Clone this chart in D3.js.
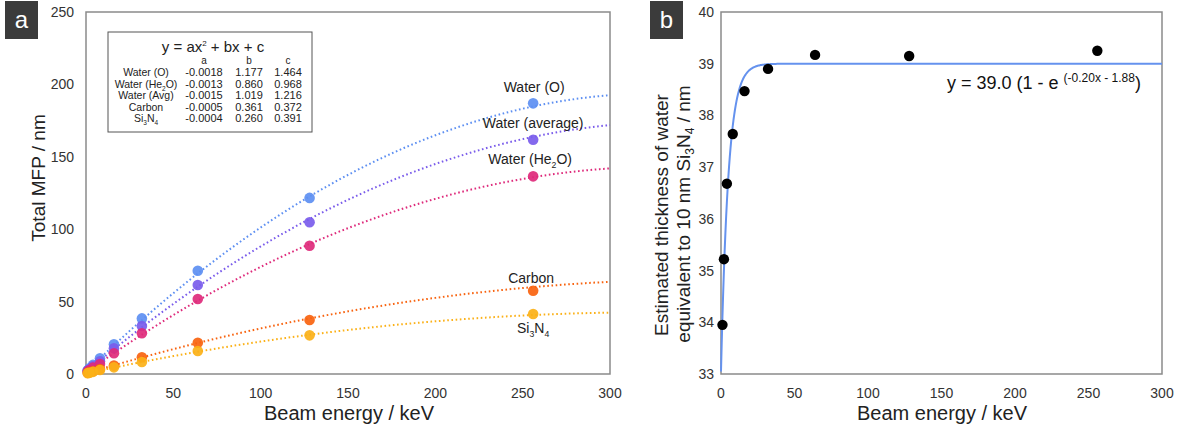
<!DOCTYPE html>
<html lang="en">
<head>
<meta charset="UTF-8">
<title>Total MFP vs beam energy</title>
<script src="https://d3js.org/d3.v7.min.js"></script>
<style>
    body { margin: 0; background: #fff; }
    svg text { font-family: "Liberation Sans", Arial, sans-serif; }
    .tick-label { font-size: 14px; fill: #333; }
    .axis-title { font-size: 19px; fill: #222; }
    .frame { fill: none; stroke: #8a8a8a; stroke-width: 1.5px; }
    .tbl { font-size: 11px; fill: #222; }
</style>
</head>
<body>
<script>
    // beam energies (keV)
    var energies = [1, 2, 4, 8, 16, 32, 64, 128, 256];

    // panel a: total MFP (nm) per material
    var seriesNames = ["Water (O)", "Water (average)", "Water (He2O)", "Carbon", "Si3N4"];
    var waterO   = [2.6, 3.9, 6.3, 10.8, 20.5, 38.4, 71.3, 121.6, 186.9];
    var waterAvg = [2.2, 3.2, 5.3, 8.8, 17.7, 33.1, 61.5, 104.8, 161.8];
    var waterHe  = [1.8, 2.7, 4.4, 6.9, 14.3, 28.1, 51.8, 88.6, 136.5];
    var carbon   = [0.8, 1.2, 1.9, 3.4, 5.8, 11.5, 21.6, 37.3, 57.5];
    var si3n4    = [0.6, 0.9, 1.5, 2.8, 4.6, 8.3, 15.9, 26.7, 41.4];
    var seriesColors = ["#5d8ff2", "#7a5ceb", "#de2a7b", "#f8630f", "#fbb118"];

    // quadratic fit coefficients y = ax^2 + bx + c (table rows)
    var tableRows = ["Water (O)", "Water (He2O)", "Water (Avg)", "Carbon", "Si3N4"];
    var coefA = [-0.0018, -0.0013, -0.0015, -0.0005, -0.0004];
    var coefB = [1.177, 0.860, 1.019, 0.361, 0.260];
    var coefC = [1.464, 0.968, 1.216, 0.372, 0.391];
    // which table row belongs to which plotted series
    var fitRowForSeries = [0, 2, 1, 3, 4];

    // panel b: estimated water thickness equivalent to 10 nm Si3N4
    var thickness = [33.95, 35.22, 36.68, 37.64, 38.47, 38.90, 39.17, 39.15, 39.25];
    var expFit = {amp: 39.0, k: -0.20, b: -1.88};

    var xTicks = [0, 50, 100, 150, 200, 250, 300];
    var yTicksA = [0, 50, 100, 150, 200, 250];
    var yTicksB = [33, 34, 35, 36, 37, 38, 39, 40];

    var width = 1184, height = 430;
    var svg = d3.select("body").append("svg")
        .attr("width", width)
        .attr("height", height);

    // subscript digits as tspans ("He2O" -> He<sub>2</sub>O)
    function richText(sel, str, size) {
        var parts = str.match(/[A-Za-z()\s]+|\d/g);
        var sub = false;
        parts.forEach(function(p) {
            var isDigit = /^\d$/.test(p);
            var t = sel.append("tspan").text(p);
            if (isDigit) {
                t.attr("font-size", size * 0.62).attr("dy", size * 0.28);
                sub = true;
            } else if (sub) {
                t.attr("dy", -size * 0.28);
                sub = false;
            }
        });
    }

    function panelLetter(x, letter) {
        svg.append("rect").attr("x", x).attr("y", 1).attr("width", 33).attr("height", 38)
            .attr("fill", "#3b3b3b");
        svg.append("text").attr("x", x + 16.5).attr("y", 28).attr("text-anchor", "middle")
            .attr("fill", "#fff").style("font-size", "24px").text(letter);
    }

    // ---------- panel a ----------
    var xa = d3.scaleLinear().domain([0, 300]).range([86, 610]);
    var ya = d3.scaleLinear().domain([0, 250]).range([374, 12]);

    var ga = svg.append("g");
    ga.append("rect").attr("class", "frame")
        .attr("x", xa(0)).attr("y", ya(250))
        .attr("width", xa(300) - xa(0)).attr("height", ya(0) - ya(250));

    ga.selectAll(".xt").data(xTicks).enter().append("text")
        .attr("class", "tick-label").attr("text-anchor", "middle")
        .attr("x", function(d) { return xa(d); }).attr("y", 398)
        .text(function(d) { return d; });
    ga.selectAll(".yt").data(yTicksA).enter().append("text")
        .attr("class", "tick-label").attr("text-anchor", "end")
        .attr("x", 74).attr("y", function(d) { return ya(d) + 5; })
        .text(function(d) { return d; });

    ga.append("text").attr("class", "axis-title").attr("text-anchor", "middle")
        .style("font-size", "20px")
        .attr("x", 349).attr("y", 420).text("Beam energy / keV");
    ga.append("text").attr("class", "axis-title").attr("text-anchor", "middle")
        .attr("transform", "translate(45,178) rotate(-90)").text("Total MFP / nm");

    var allSeries = [waterO, waterAvg, waterHe, carbon, si3n4];
    var fitX = d3.range(0, 301, 2);
    var quadLine = d3.line()
        .x(function(d) { return xa(d[0]); })
        .y(function(d) { return ya(d[1]); });

    allSeries.forEach(function(vals, i) {
        var r = fitRowForSeries[i];
        var pts = fitX.map(function(x) { return [x, coefA[r] * x * x + coefB[r] * x + coefC[r]]; });
        ga.append("path").attr("d", quadLine(pts))
            .attr("fill", "none").attr("stroke", seriesColors[i])
            .attr("stroke-width", 2).attr("stroke-dasharray", "1.6,2.6");
    });
    allSeries.forEach(function(vals, i) {
        ga.selectAll(".pt" + i).data(vals).enter().append("circle")
            .attr("cx", function(d, j) { return xa(energies[j]); })
            .attr("cy", function(d) { return ya(d); })
            .attr("r", 5.3).attr("fill", seriesColors[i]).attr("fill-opacity", 0.92);
    });

    // series labels next to the 256 keV points
    var labelDy = [-11, -11.5, -12, -8, 19];
    var labelDx = [1, 0, -3, -2, 0];
    seriesNames.forEach(function(name, i) {
        var t = ga.append("text").attr("text-anchor", "middle")
            .attr("x", xa(256) + labelDx[i]).attr("y", ya(allSeries[i][8]) + labelDy[i])
            .style("font-size", "14px").attr("fill", "#222");
        richText(t, name, 14);
    });

    // coefficient table
    ga.append("rect").attr("x", 108).attr("y", 32).attr("width", 204).attr("height", 100)
        .attr("fill", "#fff").attr("stroke", "#555").attr("stroke-width", 1);
    var title = ga.append("text").attr("x", 213).attr("y", 52).attr("text-anchor", "middle")
        .style("font-size", "15px").attr("fill", "#222");
    title.append("tspan").text("y = ax");
    title.append("tspan").text("2").attr("font-size", 8).attr("dy", -6);
    title.append("tspan").text(" + bx + c").attr("dy", 6);

    var colX = [146, 204, 249, 288];
    ["a", "b", "c"].forEach(function(h, i) {
        ga.append("text").attr("class", "tbl").attr("text-anchor", "middle")
            .attr("x", colX[i + 1]).attr("y", 64).style("font-size", "10px").text(h);
    });
    tableRows.forEach(function(name, i) {
        var yy = 76 + i * 11.6;
        var t = ga.append("text").attr("class", "tbl").attr("text-anchor", "middle")
            .attr("x", colX[0]).attr("y", yy).style("font-size", "10.5px");
        richText(t, name, 10.5);
        [coefA[i].toFixed(4), coefB[i].toFixed(3), coefC[i].toFixed(3)].forEach(function(v, k) {
            ga.append("text").attr("class", "tbl").attr("text-anchor", "middle")
                .attr("x", colX[k + 1]).attr("y", yy).text(v);
        });
    });

    panelLetter(5, "a");

    // ---------- panel b ----------
    var xb = d3.scaleLinear().domain([0, 300]).range([721, 1162]);
    var yb = d3.scaleLinear().domain([33, 40]).range([374, 12]);

    var gb = svg.append("g");
    gb.append("rect").attr("class", "frame")
        .attr("x", xb(0)).attr("y", yb(40))
        .attr("width", xb(300) - xb(0)).attr("height", yb(33) - yb(40));

    gb.selectAll(".xt").data(xTicks).enter().append("text")
        .attr("class", "tick-label").attr("text-anchor", "middle")
        .attr("x", function(d) { return xb(d); }).attr("y", 398)
        .text(function(d) { return d; });
    gb.selectAll(".yt").data(yTicksB).enter().append("text")
        .attr("class", "tick-label").attr("text-anchor", "end")
        .attr("x", 714).attr("y", function(d) { return yb(d) + 5; })
        .text(function(d) { return d; });

    gb.append("text").attr("class", "axis-title").attr("text-anchor", "middle")
        .style("font-size", "20px")
        .attr("x", 942).attr("y", 420).text("Beam energy / keV");
    gb.append("text").attr("class", "axis-title").attr("text-anchor", "middle")
        .attr("transform", "translate(668,215) rotate(-90)").text("Estimated thickness of  water");
    var yl2 = gb.append("text").attr("class", "axis-title").attr("text-anchor", "middle")
        .attr("transform", "translate(690,214) rotate(-90)");
    yl2.append("tspan").text("equivalent to 10 nm Si");
    yl2.append("tspan").text("3").attr("font-size", 12).attr("dy", 4);
    yl2.append("tspan").text("N").attr("dy", -4);
    yl2.append("tspan").text("4").attr("font-size", 12).attr("dy", 4);
    yl2.append("tspan").text(" / nm").attr("dy", -4);

    var expX = d3.range(0, 300.5, 0.5);
    var expLine = d3.line()
        .x(function(d) { return xb(d); })
        .y(function(d) { return yb(expFit.amp * (1 - Math.exp(expFit.k * d + expFit.b))); });
    gb.append("path").attr("d", expLine(expX))
        .attr("fill", "none").attr("stroke", "#6592ee").attr("stroke-width", 2);

    gb.selectAll(".bp").data(thickness).enter().append("circle")
        .attr("cx", function(d, j) { return xb(energies[j]); })
        .attr("cy", function(d) { return yb(d); })
        .attr("r", 5.2).attr("fill", "#000");

    var eq = gb.append("text").attr("x", 947).attr("y", 89)
        .style("font-size", "18px").attr("fill", "#111");
    eq.append("tspan").text("y = 39.0 (1 - e ");
    eq.append("tspan").text("(-0.20x - 1.88").attr("font-size", 12).attr("dy", -7);
    eq.append("tspan").text(")").attr("dy", 7);

    panelLetter(650, "b");
</script>
</body>
</html>
